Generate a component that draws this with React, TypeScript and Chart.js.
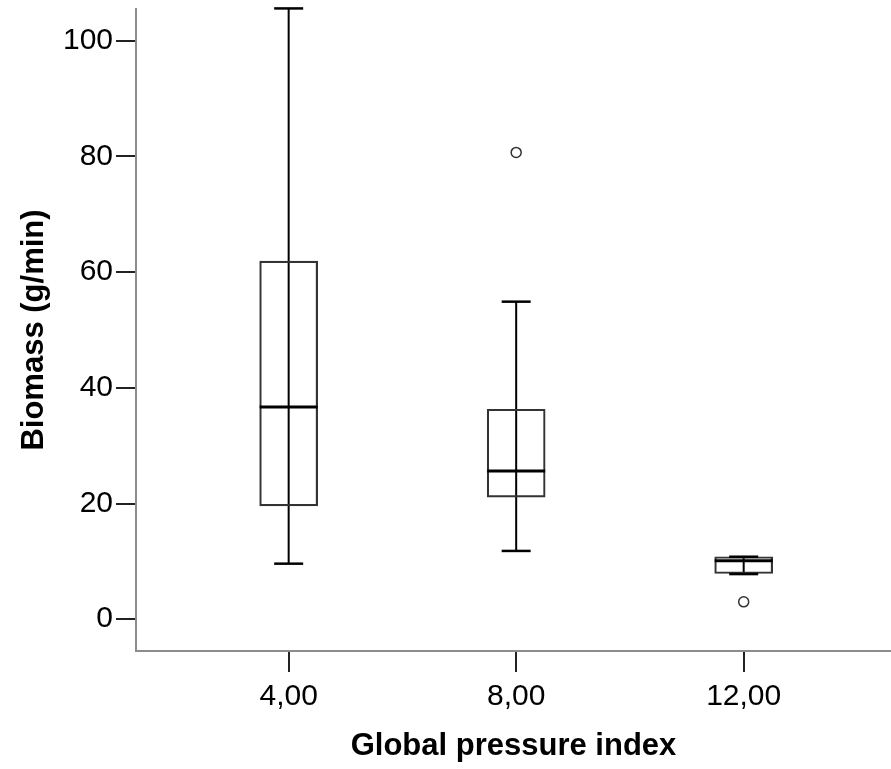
import React, { useEffect, useRef } from 'react';
import { Chart, registerables } from 'chart.js';

Chart.register(...registerables);

// ---- data ----
const groups = [4, 8, 12];
const groupLabels = ['4,00', '8,00', '12,00'];
const whiskerLow = [9.6, 11.8, 7.8];
const quartile1 = [19.6, 21.1, 7.9];
const medians = [36.7, 25.6, 10.1];
const quartile3 = [61.9, 36.3, 10.8];
const whiskerHigh = [105.6, 54.9, 10.8];
const outlierGroups = [8, 12];
const outlierValues = [80.7, 3.0];
const yTicks = [0, 20, 40, 60, 80, 100];

const FONT = '"Liberation Sans", Arial, Helvetica, sans-serif';

export default function App() {
  const ref = useRef<HTMLCanvasElement | null>(null);

  useEffect(() => {
    if (!ref.current) return;

    const whiskerSets = groups.map((g, i) => ({
      type: 'line' as const,
      data: [
        { x: g, y: whiskerLow[i] },
        { x: g, y: whiskerHigh[i] },
      ],
      borderColor: '#000',
      borderWidth: 2,
      pointRadius: 0,
      clip: false as any,
      order: 3,
    }));

    const chart = new Chart(ref.current, {
      type: 'bar',
      data: {
        datasets: [
          {
            type: 'bar',
            data: groups.map((g, i) => ({ x: g, y: [quartile1[i], quartile3[i]] })) as any,
            backgroundColor: 'rgba(0,0,0,0)',
            borderColor: '#333',
            borderWidth: 1.5,
            borderSkipped: false,
            barThickness: 58,
            order: 2,
          } as any,
          ...whiskerSets,
          {
            type: 'scatter',
            data: groups.flatMap((g, i) => [
              { x: g, y: whiskerLow[i] },
              { x: g, y: whiskerHigh[i] },
            ]),
            pointStyle: 'line',
            pointRadius: 14.5,
            borderWidth: 2.5,
            borderColor: '#000',
            clip: false as any,
            order: 1,
          } as any,
          {
            type: 'scatter',
            data: groups.map((g, i) => ({ x: g, y: medians[i] })),
            pointStyle: 'line',
            pointRadius: 29,
            borderWidth: 3,
            borderColor: '#000',
            clip: false as any,
            order: 0,
          } as any,
          {
            type: 'scatter',
            data: outlierGroups.map((g, i) => ({ x: g, y: outlierValues[i] })),
            pointStyle: 'circle',
            pointRadius: 5,
            borderWidth: 1.5,
            borderColor: '#333',
            backgroundColor: '#fff',
            clip: false as any,
            order: 0,
          } as any,
        ],
      },
      options: {
        animation: false,
        responsive: false,
        maintainAspectRatio: false,
        layout: { autoPadding: false, padding: { top: 9, left: 0, right: 0, bottom: 0 } },
        plugins: {
          legend: { display: false },
          tooltip: { enabled: false },
        },
        scales: {
          x: {
            type: 'linear',
            min: 1.316,
            max: 14.59,
            offset: false,
            afterBuildTicks: (s: any) => {
              s.ticks = groups.map((v) => ({ value: v }));
            },
            afterFit: (s: any) => {
              s.height = 118;
              s.paddingLeft = 0;
              s.paddingRight = 0;
            },
            grid: {
              offset: false,
              drawOnChartArea: false,
              drawTicks: true,
              tickLength: 21,
              tickColor: '#222',
              tickWidth: 2,
              lineWidth: 2,
            },
            border: { display: true, color: '#8c8c8c', width: 2 },
            ticks: {
              padding: 7,
              color: '#000',
              font: { family: FONT, size: 30 },
              maxRotation: 0,
              autoSkip: false,
              callback: (v: any) => {
                const idx = groups.indexOf(Number(v));
                return idx >= 0 ? groupLabels[idx] : '';
              },
            },
            title: {
              display: true,
              text: 'Global pressure index',
              color: '#000',
              font: { family: FONT, size: 31, weight: 'bold' },
              padding: { top: 0, bottom: 4 },
            },
          },
          y: {
            type: 'linear',
            min: -5.5,
            max: 105.5,
            afterBuildTicks: (s: any) => {
              s.ticks = yTicks.map((v) => ({ value: v }));
            },
            afterFit: (s: any) => {
              s.width = 136;
              s.paddingTop = 0;
              s.paddingBottom = 0;
            },
            grid: {
              drawOnChartArea: false,
              drawTicks: true,
              tickLength: 20,
              tickColor: '#222',
              tickWidth: 2,
              lineWidth: 2,
            },
            border: { display: true, color: '#8c8c8c', width: 2 },
            ticks: {
              padding: 3,
              color: '#000',
              font: { family: FONT, size: 30 },
              autoSkip: false,
              callback: (v: any) => String(v),
            },
            title: {
              display: true,
              text: 'Biomass (g/min)',
              color: '#000',
              font: { family: FONT, size: 31, weight: 'bold' },
              padding: { top: 16, bottom: 0 },
            },
          },
        },
      } as any,
    });

    return () => chart.destroy();
  }, []);

  return (
    <div style={{ position: 'absolute', left: 0, top: 0, width: 891, height: 769, background: '#fff' }}>
      <canvas ref={ref} width={891} height={769} style={{ display: 'block', width: 891, height: 769 }} />
    </div>
  );
}
